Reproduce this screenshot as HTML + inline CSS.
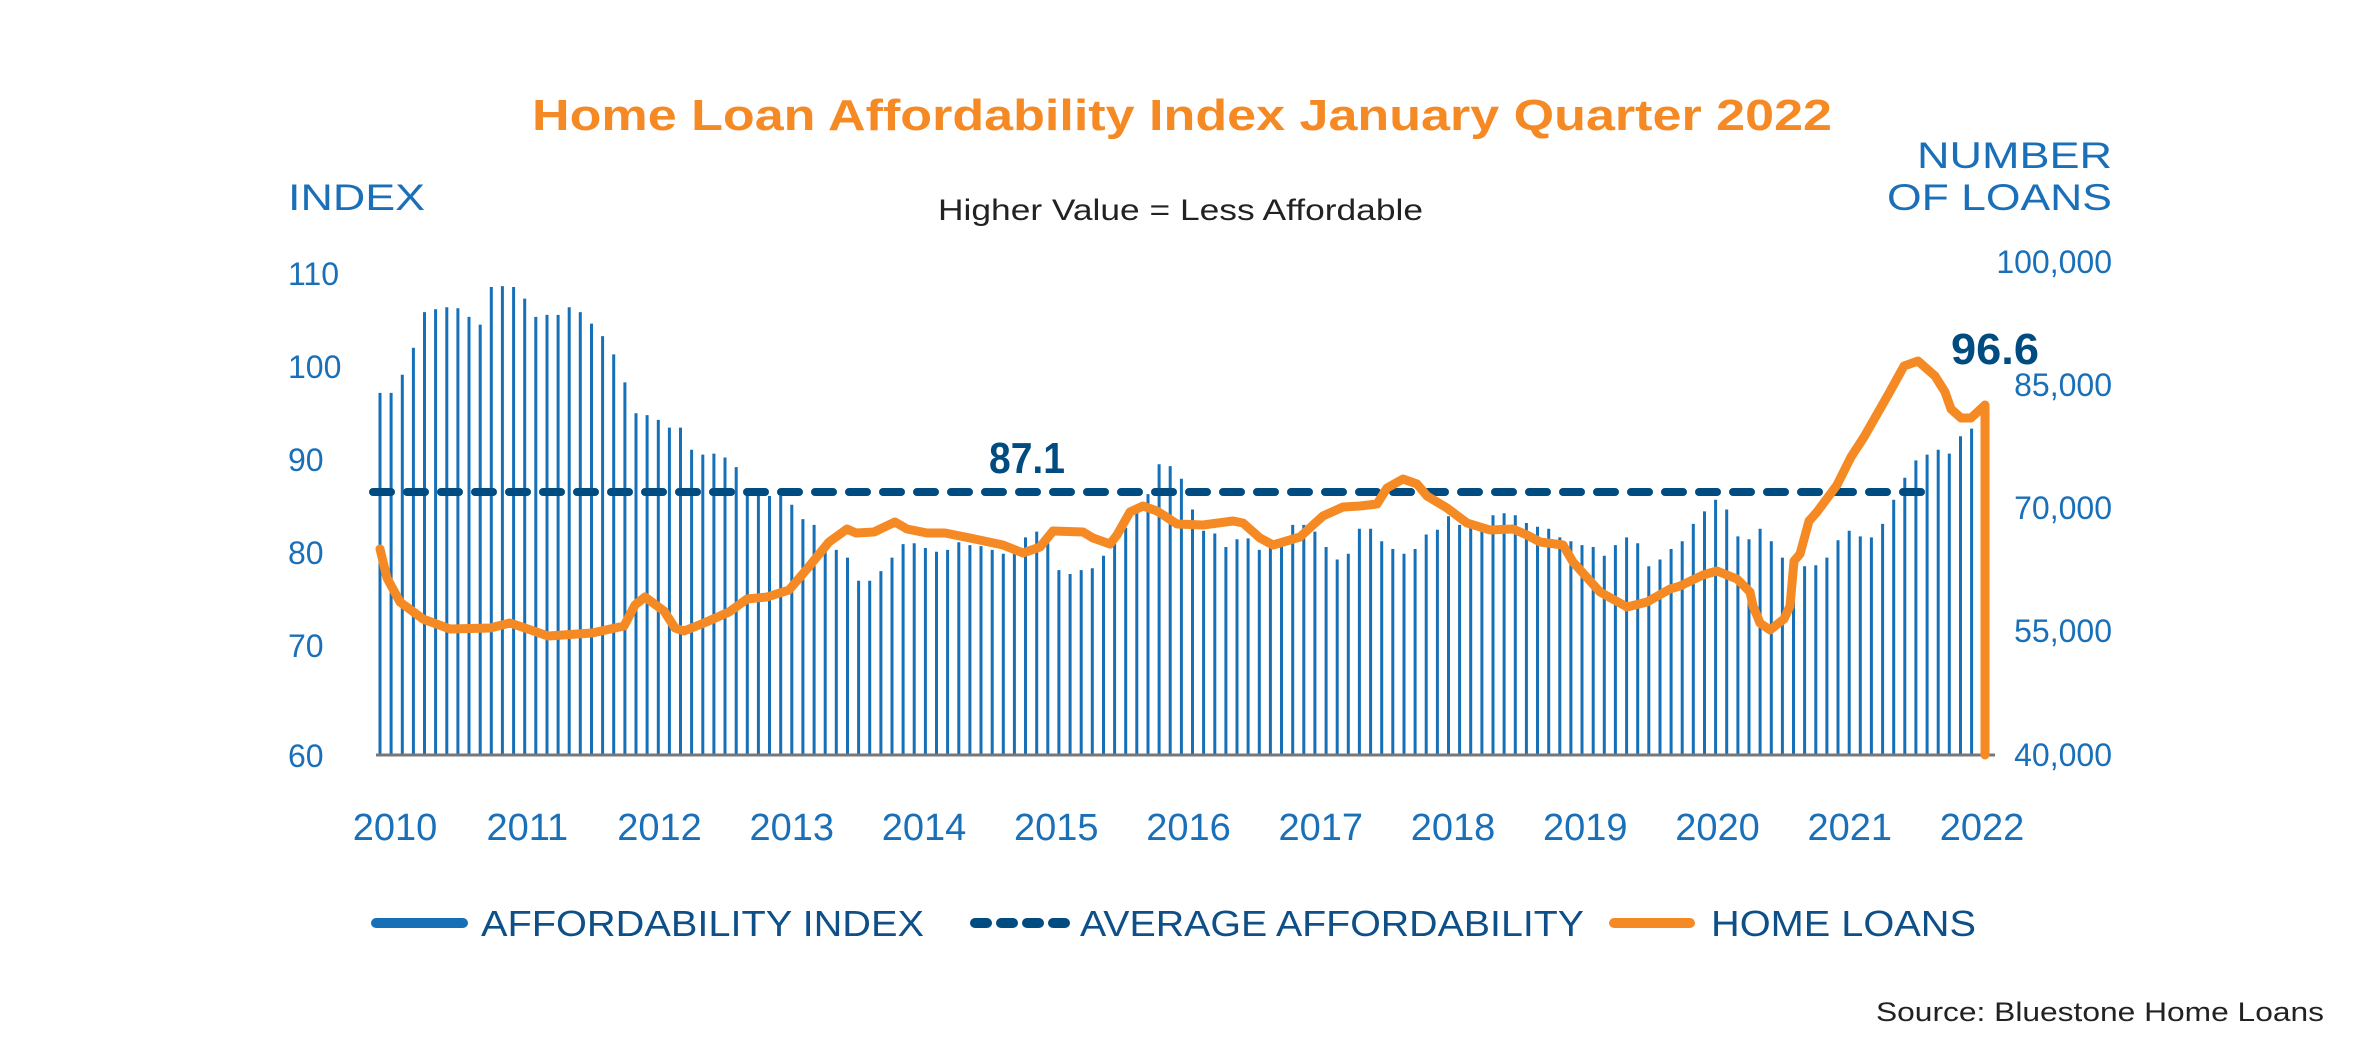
<!DOCTYPE html>
<html><head><meta charset="utf-8"><style>
html,body{margin:0;padding:0;background:#fff;}
svg{display:block;}
text{font-family:"Liberation Sans",sans-serif;}
</style></head><body>
<svg id="s" width="2362" height="1063" viewBox="0 0 2362 1063" xmlns="http://www.w3.org/2000/svg">
<rect width="2362" height="1063" fill="#fff"/>
<text x="1182" y="130" text-anchor="middle" font-size="44" font-weight="bold" fill="#f58a25" textLength="1300" lengthAdjust="spacingAndGlyphs">Home Loan Affordability Index January Quarter 2022</text>
<text x="288" y="210" font-size="37" fill="#1a70b8" textLength="137" lengthAdjust="spacingAndGlyphs">INDEX</text>
<text x="2112" y="168" text-anchor="end" font-size="37" fill="#1a70b8" textLength="195" lengthAdjust="spacingAndGlyphs">NUMBER</text>
<text x="2112" y="210" text-anchor="end" font-size="37" fill="#1a70b8" textLength="225" lengthAdjust="spacingAndGlyphs">OF LOANS</text>
<text x="938" y="220" font-size="30" fill="#222" textLength="485" lengthAdjust="spacingAndGlyphs">Higher Value = Less Affordable</text>
<g font-size="32" fill="#1a70b8">
<text x="288" y="285">110</text><text x="288" y="378">100</text><text x="288" y="471">90</text>
<text x="288" y="564">80</text><text x="288" y="657">70</text><text x="288" y="767">60</text>
</g>
<g font-size="32" fill="#1a70b8" text-anchor="end">
<text x="2112" y="273">100,000</text><text x="2112" y="396">85,000</text><text x="2112" y="519">70,000</text>
<text x="2112" y="642">55,000</text><text x="2112" y="766">40,000</text>
</g>
<g id="bars" stroke="#1570b8" stroke-width="3"></g>
<line x1="376" y1="755" x2="1995" y2="755" stroke="#777" stroke-width="3"/>
<line x1="373" y1="492" x2="1922" y2="492" stroke="#004b80" stroke-width="8" stroke-linecap="round" stroke-dasharray="18 16"/>
<polyline fill="none" stroke="#f58a25" stroke-width="9" stroke-linejoin="round" stroke-linecap="round" points="380,549 387,578 400,602 423,619 450,629 490,628 510,623 525,628 548,636 592,633 624,626 635,605 645,597 664,611 675,628 684,631 704,623 729,612 747,599 767,597 789,590 807,569 829,542 847,529 856,533 874,532 895,522 907,529 927,533 945,533 970,538 1003,545 1023,553 1040,547 1053,531 1083,532 1093,538 1110,544 1117,535 1130,512 1143,506 1157,511 1177,524 1203,525 1233,521 1243,523 1260,538 1273,545 1300,537 1313,525 1323,516 1343,507 1360,506 1377,504 1387,488 1403,479 1417,484 1427,496 1447,508 1467,523 1490,530 1513,529 1527,535 1540,542 1563,545 1573,562 1600,592 1627,607 1647,602 1670,589 1680,586 1703,575 1717,571 1737,579 1750,592 1753,606 1760,623 1770,630 1784,619 1790,606 1794,561 1800,554 1809,521 1817,512 1837,485 1851,457 1864,437 1888,395 1904,366 1918,361 1935,376 1945,392 1951,409 1961,418 1971,418 1985,405 1985,755"/>
<text x="989" y="473" font-size="44" font-weight="bold" fill="#004b80" textLength="76" lengthAdjust="spacingAndGlyphs">87.1</text>
<text x="1951" y="364" font-size="44" font-weight="bold" fill="#004b80" textLength="88" lengthAdjust="spacingAndGlyphs">96.6</text>
<g id="years" font-size="38" fill="#1a70b8" text-anchor="middle"></g>
<line x1="376" y1="923" x2="463" y2="923" stroke="#1570b8" stroke-width="10" stroke-linecap="round"/>
<text x="481" y="936" font-size="36" fill="#0d4f86" textLength="443" lengthAdjust="spacingAndGlyphs">AFFORDABILITY INDEX</text>
<line x1="975" y1="923" x2="1066" y2="923" stroke="#004b80" stroke-width="10" stroke-linecap="round" stroke-dasharray="12 14"/>
<text x="1080" y="936" font-size="36" fill="#0d4f86" textLength="504" lengthAdjust="spacingAndGlyphs">AVERAGE AFFORDABILITY</text>
<line x1="1614" y1="923" x2="1690" y2="923" stroke="#f58a25" stroke-width="10" stroke-linecap="round"/>
<text x="1711" y="936" font-size="36" fill="#0d4f86" textLength="265" lengthAdjust="spacingAndGlyphs">HOME LOANS</text>
<text x="2324" y="1021" text-anchor="end" font-size="27" fill="#222" textLength="448" lengthAdjust="spacingAndGlyphs">Source: Bluestone Home Loans</text>
</svg>
<script>
var v=[97.7,97.7,99.6,102.4,106.1,106.4,106.6,106.5,105.6,104.8,108.7,108.8,108.7,107.5,105.6,105.8,105.8,106.6,106.1,104.9,103.6,101.7,98.8,95.6,95.4,94.9,94.1,94.1,91.8,91.3,91.4,91.0,90.0,87.7,87.2,87.0,87.0,86.1,84.6,84.0,81.2,81.4,80.6,78.2,78.2,79.2,80.6,82.0,82.1,81.6,81.2,81.4,82.2,81.9,
81.8,81.4,81.0,81.1,82.7,83.3,82.1,79.3,78.9,79.3,79.5,80.8,82.1,83.7,85.5,87.2,90.3,90.1,88.8,85.6,83.4,83.1,81.7,82.5,82.6,81.4,81.7,82.5,84.0,84.0,83.3,81.7,80.4,81.0,83.6,83.6,
82.3,81.5,81.0,81.5,83.0,83.5,84.9,84.0,83.7,83.5,85.0,85.2,85.0,84.2,83.8,83.6,82.7,82.3,81.9,81.7,80.8,81.9,82.7,82.1,79.7,80.4,81.5,82.3,84.1,85.4,86.6,85.6,82.8,82.5,
83.6,82.3,80.6,79.5,79.7,79.8,80.6,82.4,83.4,82.8,82.7,84.1,86.6,88.9,90.7,91.3,91.8,91.4,93.2,94.0];
var g=document.getElementById("bars"),h="";
for(var i=0;i<v.length;i++){var x=(380+i*11.13).toFixed(1),y=(756-(v[i]-60)*9.63).toFixed(1);h+='<line x1="'+x+'" y1="755" x2="'+x+'" y2="'+y+'"/>';}
g.innerHTML=h;
var yg=document.getElementById("years"),t="";
for(var k=0;k<=12;k++){t+='<text x="'+(395+k*132.25).toFixed(1)+'" y="840">'+(2010+k)+'</text>';}
yg.innerHTML=t;
</script>
</body></html>
